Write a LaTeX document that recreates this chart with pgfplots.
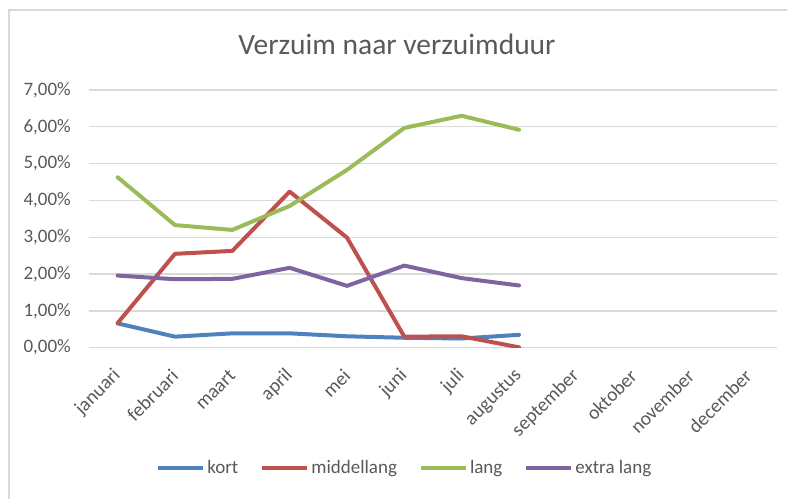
\documentclass[border=0pt]{standalone}
\usepackage{pgfplots}
\pgfplotsset{compat=1.18}
\usepackage{fontspec}
\setmainfont{Carlito}
\definecolor{cblue}{HTML}{4F81BD}
\definecolor{cred}{HTML}{C0504D}
\definecolor{cgreen}{HTML}{9BBB59}
\definecolor{cpurple}{HTML}{8064A2}
\definecolor{txt}{HTML}{595959}
\definecolor{gridc}{HTML}{D9D9D9}
\begin{document}
\begin{tikzpicture}[x=1pt,y=1pt]
\useasboundingbox (0,0) rectangle (787,499);
\draw[color=gridc, line width=1.2pt] (9,0) -- (9,489) -- (787,489);
\node[anchor=base, text=txt, font=\fontsize{29.5}{34}\selectfont] at (397,444.7) {Verzuim naar verzuimduur};
\begin{axis}[
  at={(89pt,151.3pt)}, anchor=south west,
  scale only axis, width=688pt, height=257.7pt,
  xmin=-0.5, xmax=11.5, ymin=0, ymax=7,
  axis line style={draw=none},
  major tick length=0pt,
  ymajorgrids, grid style={color=gridc, line width=1.3pt},
  ytick={0,1,2,3,4,5,6,7},
  yticklabels={{0,00\%},{1,00\%},{2,00\%},{3,00\%},{4,00\%},{5,00\%},{6,00\%},{7,00\%}},
  xtick={0,...,11},
  xticklabels={januari,februari,maart,april,mei,juni,juli,augustus,september,oktober,november,december},
  ticklabel style={text=txt, font=\fontsize{19}{22}\selectfont},
  xticklabel style={font=\fontsize{19.5}{22}\selectfont},
  yticklabel style={anchor=east, inner sep=0pt, xshift=-18pt},
  xticklabel style={anchor=east, inner sep=0pt, xshift=0pt, yshift=-25pt, rotate=45},
  every axis plot/.append style={line width=4pt, line join=round, line cap=round, no markers},
  legend columns=4,
  legend style={at={(0.459,-0.467)}, anchor=center, draw=none, fill=none,
    font=\fontsize{19}{22}\selectfont, text=txt,
    /tikz/every even column/.append style={column sep=20pt},
    nodes={inner sep=2pt}},
  legend image code/.code={\draw[#1, line width=4pt, line cap=butt] (0pt,0pt) -- (45pt,0pt);},
]
\addplot[color=cblue] coordinates {(0,0.66) (1,0.30) (2,0.39) (3,0.39) (4,0.31) (5,0.27) (6,0.25) (7,0.35)};
\addlegendentry{kort}
\addplot[color=cred] coordinates {(0,0.67) (1,2.55) (2,2.63) (3,4.24) (4,2.99) (5,0.30) (6,0.31) (7,0.01)};
\addlegendentry{middellang}
\addplot[color=cgreen] coordinates {(0,4.63) (1,3.33) (2,3.20) (3,3.85) (4,4.83) (5,5.97) (6,6.30) (7,5.92)};
\addlegendentry{lang}
\addplot[color=cpurple] coordinates {(0,1.96) (1,1.86) (2,1.87) (3,2.17) (4,1.68) (5,2.23) (6,1.89) (7,1.69)};
\addlegendentry{extra lang}
\end{axis}
\end{tikzpicture}
\end{document}
